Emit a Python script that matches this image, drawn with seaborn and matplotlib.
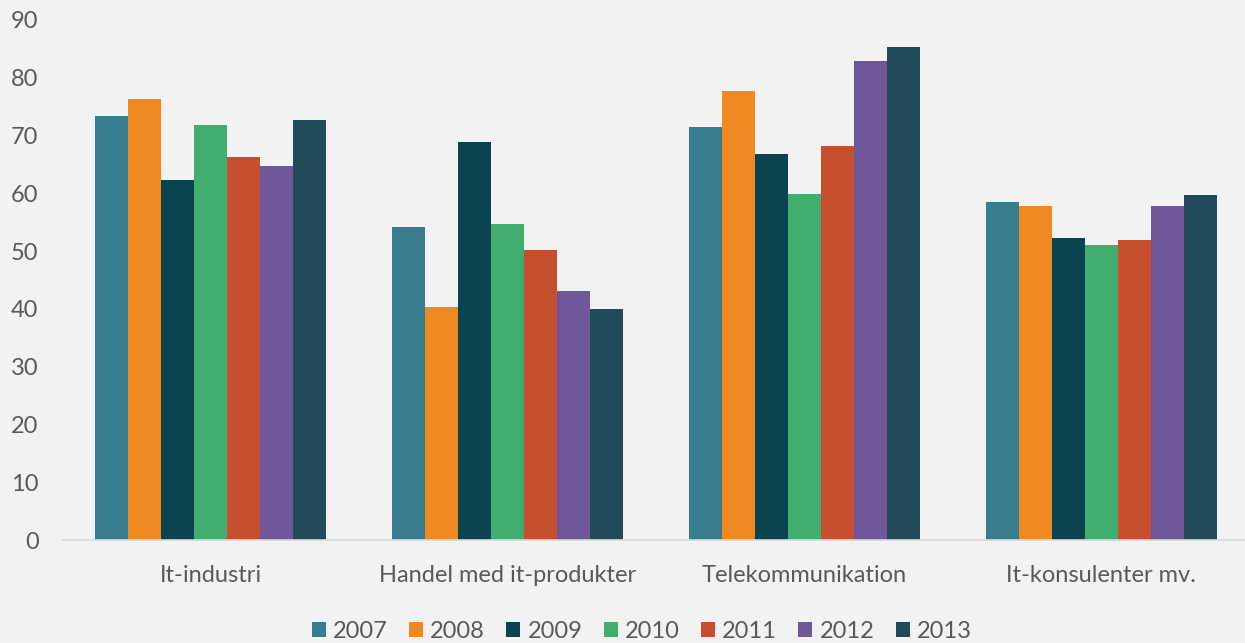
import numpy as np
import pandas as pd
import matplotlib
matplotlib.use("Agg")
import matplotlib.pyplot as plt
import seaborn as sns

categories = ["It-industri", "Handel med it-produkter", "Telekommunikation", "It-konsulenter mv."]
years = ["2007", "2008", "2009", "2010", "2011", "2012", "2013"]

v2007 = [73.4, 54.2, 71.5, 58.5]
v2008 = [76.3, 40.3, 77.7, 57.8]
v2009 = [62.3, 68.9, 66.8, 52.2]
v2010 = [71.8, 54.7, 59.9, 51.0]
v2011 = [66.3, 50.2, 68.2, 51.9]
v2012 = [64.7, 43.1, 82.9, 57.8]
v2013 = [72.7, 40.0, 85.3, 59.7]

colors = ["#387c8f", "#ee8a21", "#0b4450", "#41ad6e", "#c64f2e", "#6e589a", "#214b59"]

series = [v2007, v2008, v2009, v2010, v2011, v2012, v2013]
rows = []
for year, vals in zip(years, series):
    for cat, v in zip(categories, vals):
        rows.append({"Kategori": cat, "År": year, "Værdi": v})
df = pd.DataFrame(rows)

sns.set_theme(style="white")
plt.rcParams["font.family"] = ["Lato", "DejaVu Sans"]

bg = "#f2f2f2"
txt = "#595959"

fig = plt.figure(figsize=(12.45, 6.43), dpi=100, facecolor=bg)
ax = fig.add_axes([0.0499, 0.160, 0.954, 0.809])
ax.set_facecolor(bg)

sns.barplot(
    data=df, x="Kategori", y="Værdi", hue="År",
    palette=colors, width=0.78, gap=0, linewidth=0,
    saturation=1, ax=ax
)

ax.set_ylim(0, 90)
ax.set_yticks(range(0, 91, 10))
ax.set_xlim(-0.5, 3.5)
ax.set_xlabel("")
ax.set_ylabel("")
ax.tick_params(axis="both", length=0, labelsize=17, colors=txt)
ax.tick_params(axis="y", pad=17)
ax.tick_params(axis="x", pad=18)
for lbl in ax.get_yticklabels():
    lbl.set_horizontalalignment("right")

for s in ["top", "right", "left"]:
    ax.spines[s].set_visible(False)
ax.spines["bottom"].set_color("#d9d9d9")
ax.spines["bottom"].set_linewidth(1.2)

handles, labels = ax.get_legend_handles_labels()
ax.legend(
    handles, labels, loc="center", bbox_to_anchor=(0.488, -0.176),
    ncol=7, frameon=False, fontsize=17, labelcolor=txt,
    handlelength=0.6, handleheight=0.6, handletextpad=0.3, columnspacing=0.9
)

fig.savefig("out.png", dpi=100, facecolor=bg)
